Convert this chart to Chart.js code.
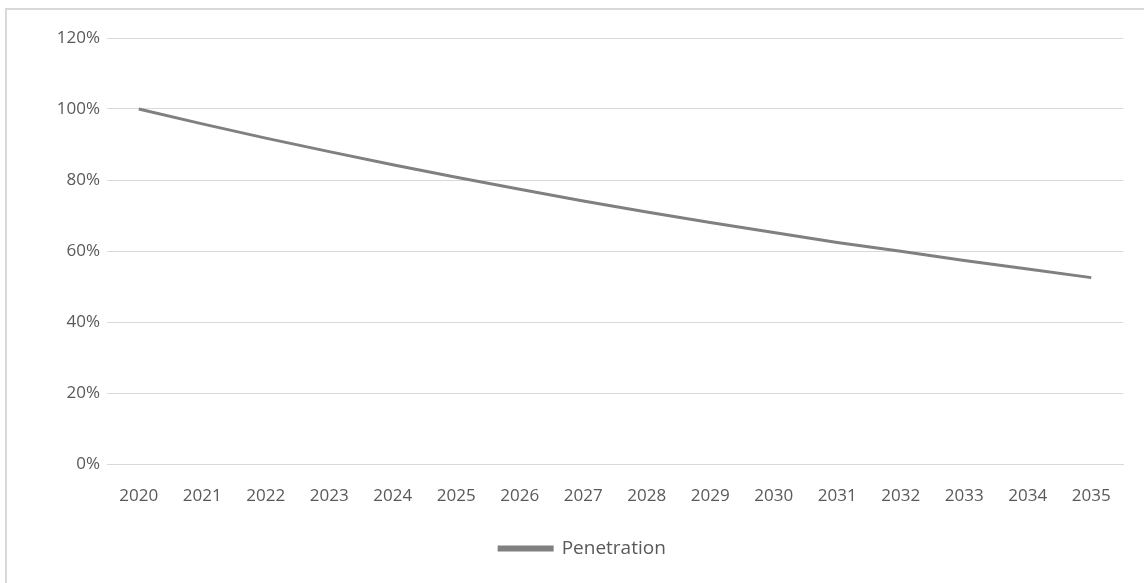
<!DOCTYPE html>
<html>
<head>
<meta charset="utf-8">
<script src="https://cdn.jsdelivr.net/npm/chart.js@4"></script>
<style>
  html, body { margin: 0; padding: 0; background: #fff; overflow: hidden; }
  #frame { position: absolute; left: 5px; top: 8px; width: 1200px; height: 640px; border: 2px solid #d9d9d9; box-sizing: border-box; }
  #wrap { position: absolute; left: 0; top: 0; width: 1144px; height: 583px; }
</style>
</head>
<body>
<div id="frame"></div>
<div id="wrap"><canvas id="myChart" width="1144" height="583"></canvas></div>
<script>
var years = ['2020', '2021', '2022', '2023', '2024', '2025', '2026', '2027',
             '2028', '2029', '2030', '2031', '2032', '2033', '2034', '2035'];
var penetration = [100, 95.8, 91.8, 88.0, 84.3, 80.8, 77.4, 74.1,
                   71.0, 68.0, 65.2, 62.4, 59.9, 57.3, 54.9, 52.5];
var yTicks = [0, 20, 40, 60, 80, 100, 120];

// nudge the legend so it sits where Excel put it
var legendShift = {
    id: 'legendShift',
    afterLayout: function(chart) {
        chart.legend.left += 21;
        chart.legend.right += 21;
    }
};

document.addEventListener("DOMContentLoaded", function() {
    var ctx = document.getElementById('myChart').getContext('2d');
    var labelFont = { family: 'Open Sans', size: 17 };

    new Chart(ctx, {
        type: 'line',
        data: {
            labels: years,
            datasets: [{
                label: 'Penetration',
                data: penetration,
                borderColor: '#808080',
                backgroundColor: '#808080',
                borderWidth: 3,
                pointRadius: 0,
                tension: 0,
                fill: false
            }]
        },
        plugins: [legendShift],
        options: {
            responsive: false,
            animation: false,
            layout: { padding: { top: 38, right: 21, bottom: 15, left: 0 } },
            plugins: {
                tooltip: { enabled: false },
                legend: {
                    position: 'bottom',
                    labels: {
                        font: { family: 'Open Sans', size: 19 },
                        color: '#595959',
                        boxWidth: 53,
                        boxHeight: 3,
                        padding: 10
                    }
                }
            },
            scales: {
                x: {
                    offset: true,
                    grid: { display: false, drawTicks: false },
                    border: { display: true, color: '#d9d9d9', width: 1 },
                    ticks: { font: labelFont, color: '#595959', padding: 22, maxRotation: 0, autoSkip: false },
                    afterFit: function(scale) { scale.height = 65; }
                },
                y: {
                    min: 0,
                    max: 120,
                    afterBuildTicks: function(scale) {
                        scale.ticks = yTicks.map(function(v) { return { value: v }; });
                    },
                    grid: { color: '#d9d9d9', lineWidth: 1, drawTicks: false },
                    border: { display: false },
                    ticks: {
                        font: labelFont,
                        color: '#595959',
                        padding: 7,
                        callback: function(v) { return v + '%'; }
                    },
                    afterFit: function(scale) { scale.width = 107; }
                }
            }
        }
    });
});
</script>
</body>
</html>
